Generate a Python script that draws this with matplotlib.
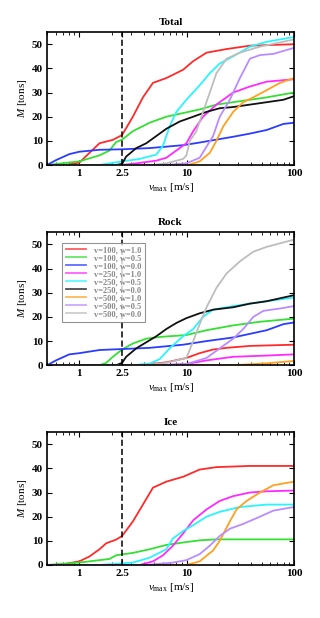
import numpy as np
import matplotlib
matplotlib.use("Agg")
import matplotlib.pyplot as plt
from matplotlib.ticker import FixedLocator, NullFormatter, LogLocator

plt.rcParams['font.family'] = ['Liberation Serif', 'DejaVu Serif']
plt.rcParams['mathtext.fontset'] = 'custom'
plt.rcParams['mathtext.it'] = 'Liberation Serif:italic'
plt.rcParams['mathtext.rm'] = 'Liberation Serif'

labels = ['v=100, w=1.0', 'v=100, w=0.5', 'v=100, w=0.0',
          'v=250, w=1.0', 'v=250, w=0.5', 'v=250, w=0.0',
          'v=500, w=1.0', 'v=500, w=0.5', 'v=500, w=0.0']
colors = ['#ff2a2a', '#33e033', '#2a3cff', '#ff2aff', '#2af4ff',
          '#111111', '#ffa020', '#b98cff', '#bdbdbd']

# ---- Total ----
tot_v = [
    [0.75, 1.0, 1.54, 2.05, 2.5, 3.15, 3.91, 4.85, 6.46, 9.24, 11.5, 15.3, 23.5, 38.8, 100],
    [0.5, 1.0, 1.54, 1.91, 2.2, 2.5, 3.15, 4.51, 6.46, 9.24, 13.2, 18.9, 27.1, 38.8, 55.6, 100],
    [0.5, 0.605, 0.806, 1.0, 1.54, 2.5, 4.51, 9.24, 13.2, 18.9, 27.1, 38.8, 55.6, 79.5, 100],
    [0.5, 2.4, 3.15, 5.21, 6.46, 8.01, 9.93, 11.5, 14.2, 18.9, 27.1, 38.8, 55.6, 100],
    [0.5, 1.54, 2.5, 3.64, 5.21, 6.01, 6.94, 8.01, 9.93, 13.2, 16.4, 20.3, 27.1, 38.8, 55.6, 100],
    [0.5, 2.2, 2.5, 2.73, 3.39, 4.20, 5.21, 6.46, 8.60, 11.5, 15.3, 20.3, 27.1, 38.8, 55.6, 79.5, 100],
    [0.5, 10.3, 13.2, 16.4, 18.9, 21.9, 27.1, 33.6, 41.7, 55.6, 74.0, 100],
    [0.5, 6.46, 9.93, 13.2, 17.6, 20.3, 25.2, 31.3, 38.8, 48.1, 64.1, 100],
    [0.5, 4.85, 6.46, 9.24, 9.93, 10.7, 12.3, 14.2, 16.4, 18.9, 23.5, 31.3, 48.1, 100],
]
tot_m = [
    [0, 1, 9, 10.4, 12.4, 20, 28, 34, 36, 39.4, 43, 46.5, 48, 49.4, 50],
    [0, 1.5, 4, 6, 9.5, 10.5, 14, 17.5, 20, 21.5, 23, 25, 26, 27, 28, 30],
    [0, 2, 4.5, 5.5, 6.3, 6.5, 7, 8.2, 9.3, 10.5, 11.7, 13, 14.5, 17, 17.5],
    [0, 0, 0.5, 1.8, 3, 6, 9, 14, 20, 25, 30, 32.5, 34.5, 35.5],
    [0, 0, 1.5, 2.5, 4.3, 8, 16, 22, 27, 33, 38, 42, 45, 49, 51, 53],
    [0, 0, 0.5, 3.5, 7, 9, 12, 15, 18, 20, 22, 23.5, 24, 25, 26, 27, 28.5],
    [0, 0, 1.5, 5, 10, 16, 22, 26, 28, 31, 34, 36],
    [0, 0, 0.7, 3, 12, 20, 27, 36, 44, 45.5, 46, 48.5],
    [0, 0, 0.7, 2.5, 4, 10, 14, 22, 30, 38, 44, 46.5, 49, 52],
]

# ---- Rock ----
rock_v = [
    [0.5, 3.64, 6.46, 9.93, 13.2, 17.6, 23.5, 38.8, 100],
    [0.5, 1.54, 1.78, 2.05, 2.5, 3.15, 4.20, 5.59, 9.93, 15.3, 27.1, 48.1, 100],
    [0.5, 0.605, 0.806, 1.0, 1.54, 2.5, 4.51, 9.24, 15.3, 27.1, 38.8, 55.6, 79.5, 100],
    [0.5, 5.59, 9.93, 15.3, 27.1, 55.6, 100],
    [0.5, 3.15, 4.51, 5.59, 6.94, 9.24, 11.5, 14.2, 17.6, 27.1, 38.8, 55.6, 100],
    [0.5, 2.2, 2.5, 2.73, 3.39, 4.20, 5.21, 6.46, 8.01, 9.93, 13.2, 17.6, 27.1, 38.8, 55.6, 100],
    [0.5, 27.1, 55.6, 100],
    [0.5, 5.59, 9.93, 15.3, 20.3, 27.1, 33.6, 41.7, 51.7, 74.0, 100],
    [0.5, 3.91, 6.46, 9.93, 11.5, 13.2, 15.3, 18.9, 23.5, 31.3, 41.7, 55.6, 100],
]
rock_m = [
    [0, 0, 1.2, 3, 5, 6.5, 7.2, 8, 8.5],
    [0, 0, 1, 3.5, 6.5, 9, 11, 11.7, 12.5, 14.5, 16.5, 18, 19.3],
    [0, 2, 4.5, 5, 6.3, 6.7, 7.2, 8.5, 10, 11.5, 13, 14.5, 17, 17.7],
    [0, 0, 0.5, 2, 3.5, 4, 4.5],
    [0, 0, 0.7, 2.5, 7, 12, 15, 20, 23, 24.5, 25.5, 26.5, 28],
    [0, 0, 1, 3.5, 7, 9.5, 12, 15, 17.5, 19.5, 21.5, 23, 24, 25.5, 26.5, 29],
    [0, 0, 0.8, 1.8],
    [0, 0, 0.5, 3, 7, 11, 15, 20, 22.5, 23.5, 24.5],
    [0, 0, 1, 3, 10, 17, 24, 32, 38, 43, 47, 49, 52],
]

# ---- Ice (w=0.0 runs carry no ice) ----
ice_v = [
    [0.5, 0.65, 1.0, 1.24, 1.54, 1.78, 2.2, 2.5, 3.15, 3.91, 4.85, 6.46, 9.24, 13.2, 18.9, 38.8, 100],
    [0.5, 1.0, 1.54, 1.91, 2.2, 3.15, 4.51, 6.46, 9.24, 13.2, 18.9, 100],
    None,
    [0.5, 3.64, 4.85, 6.01, 7.45, 9.24, 11.5, 15.3, 20.3, 27.1, 38.8, 55.6, 100],
    [0.5, 1.54, 3.15, 4.51, 6.46, 7.45, 9.24, 11.5, 15.3, 20.3, 31.3, 55.6, 100],
    None,
    [0.5, 9.93, 13.2, 17.6, 20.3, 25.2, 29.1, 36.1, 48.1, 64.1, 100],
    [0.5, 4.20, 7.45, 9.93, 13.2, 16.4, 20.3, 25.2, 33.6, 48.1, 64.1, 100],
    None,
]
ice_m = [
    [0, 0, 1.5, 3.5, 6.5, 9, 10.5, 12, 18, 25, 32, 34.5, 36.5, 39.5, 40.5, 41, 41],
    [0, 1, 2, 2.5, 4, 5, 6.5, 8.3, 9.3, 10.2, 10.6, 10.6],
    None,
    [0, 0, 1.5, 4, 8, 13, 18.5, 23, 26.5, 28.5, 30, 30.5, 30.8],
    [0, 0, 1, 3, 6.5, 11, 14, 16.5, 20, 22, 24, 25, 25],
    None,
    [0, 0, 1.5, 6, 10, 18, 23, 26.5, 30, 33, 34.5],
    [0, 0, 1, 2, 4.5, 8, 12, 15, 17, 20, 22.5, 24],
    None,
]

panels = [('Total', tot_v, tot_m), ('Rock', rock_v, rock_m), ('Ice', ice_v, ice_m)]
bottoms = [0.733, 0.409, 0.0858]

fig = plt.figure(figsize=(3.2, 6.18), dpi=100)

for (title, vs, ms), b in zip(panels, bottoms):
    ax = fig.add_axes([0.147, b, 0.772, 0.215])
    for k in range(len(labels)):
        if vs[k] is None:
            continue
        ax.plot(vs[k], ms[k], color=colors[k], lw=1.3, label=labels[k])
    ax.axvline(2.5, color='black', lw=1.1, ls=(0, (4, 2)), zorder=2.5)
    ax.set_xscale('log')
    ax.set_xlim(0.5, 100)
    ax.set_ylim(0, 55)
    ax.xaxis.set_major_locator(FixedLocator([1, 2.5, 10, 100]))
    ax.xaxis.set_minor_locator(LogLocator(base=10, subs=np.arange(2, 10)))
    ax.xaxis.set_minor_formatter(NullFormatter())
    ax.set_xticks([1, 2.5, 10, 100])
    ax.set_xticklabels(['1', '2.5', '10', '100'])
    ax.set_yticks([0, 10, 20, 30, 40, 50])
    ax.tick_params(which='both', direction='in', top=True, right=True,
                   labelsize=8, pad=3)
    ax.tick_params(which='major', length=3.5, width=0.8)
    ax.tick_params(which='minor', length=2, width=0.6)
    for lab in ax.get_xticklabels() + ax.get_yticklabels():
        lab.set_fontweight('bold')
    for sp in ax.spines.values():
        sp.set_linewidth(1.2)
    ax.set_title(title, fontsize=8, fontweight='bold', pad=5)
    ax.set_xlabel(r'$v_{\rm max}$ [m/s]', fontsize=8, labelpad=2)
    ax.set_ylabel(r'$M$ [tons]', fontsize=8, labelpad=2)
    if title == 'Rock':
        leg = ax.legend(loc='upper left', bbox_to_anchor=(0.045, 0.955),
                        fontsize=6.0, frameon=True, fancybox=False,
                        edgecolor='#777777', handlelength=2.4,
                        labelspacing=0.0, borderpad=0.45, handletextpad=0.9)
        leg.get_frame().set_linewidth(0.8)
        leg.set_zorder(6)
        for t in leg.get_texts():
            t.set_color('#888888')
            t.set_fontweight('bold')
        for h in leg.get_lines():
            h.set_alpha(0.75)

fig.savefig('out.png', dpi=100)
